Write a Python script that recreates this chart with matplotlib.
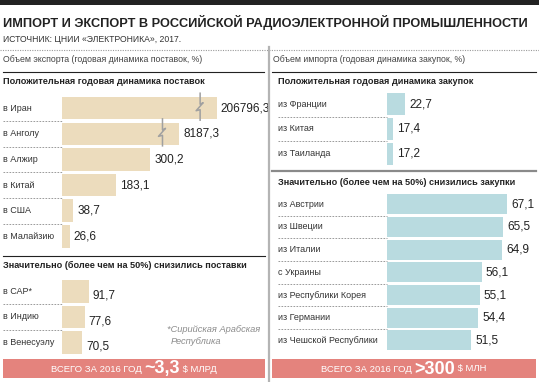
import numpy as np
import matplotlib.pyplot as plt
import matplotlib.transforms as mtransforms
from matplotlib.patches import Rectangle
from matplotlib.lines import Line2D

# Export: positive dynamics / strong decline (annual change, %)
exp_up_labels = ['в Иран', 'в Анголу', 'в Алжир', 'в Китай', 'в США', 'в Малайзию']
exp_up_values = [206796.3, 8187.3, 300.2, 183.1, 38.7, 26.6]
exp_down_labels = ['в САР*', 'в Индию', 'в Венесуэлу']
exp_down_values = [91.7, 77.6, 70.5]

# Import
imp_up_labels = ['из Франции', 'из Китая', 'из Таиланда']
imp_up_values = [22.7, 17.4, 17.2]
imp_down_labels = ['из Австрии', 'из Швеции', 'из Италии', 'с Украины',
                   'из Республики Корея', 'из Германии', 'из Чешской Республики']
imp_down_values = [67.1, 65.5, 64.9, 56.1, 55.1, 54.4, 51.5]

W, H = 539, 382
SANS = ['Liberation Sans', 'DejaVu Sans']
BEIGE = '#ecdcbd'
BLUE = '#b9dbe0'
SALMON = '#e4837d'
DARK = '#222222'

fig = plt.figure(figsize=(W / 100, H / 100), dpi=100)


def fx(x):
    return x / W


def fy(y):
    return 1 - y / H


def hline(x0, x1, y, **kw):
    fig.add_artist(Line2D([fx(x0), fx(x1)], [fy(y), fy(y)], **kw))


def txt(x, y, s, **kw):
    return fig.text(fx(x), fy(y), s, va='center', family=SANS, **kw)


def add_axes_px(x0, y0, x1, y1):
    ax = fig.add_axes([fx(x0), fy(y1), (x1 - x0) / W, (y1 - y0) / H])
    ax.set_axis_off()
    return ax


# broken scale for the export bars: linear up to the threshold, compressed above
T, K, P = 300.2, 281.0, 0.09


def fwd(x):
    x = np.asarray(x, float)
    big = T + K * ((np.maximum(x, T) / T) ** P - 1)
    return np.where(x > T, big, x)


def inv(y):
    y = np.asarray(y, float)
    big = T * ((np.maximum(y, T) - T) / K + 1) ** (1 / P)
    return np.where(y > T, big, y)


def fmt(v):
    return f'{v:.1f}'.replace('.', ',')


def bar_section(box, labels, values, color, label_x, sep_x1, xlim_fn, val_dy=0,
                broken=False):
    x0, y0, x1, y1 = box
    ax = add_axes_px(x0, y0, x1, y1)
    n = len(values)
    rows = np.arange(n)
    if broken:
        ax.set_xscale('function', functions=(fwd, inv))
    xlim_fn(ax, x1 - x0)
    ax.set_ylim(n - 0.5, -0.5)
    ax.barh(rows, values, height=0.88, color=color, left=0)
    lab_tr = mtransforms.blended_transform_factory(fig.transFigure, ax.transData)
    for i, (lab, v) in enumerate(zip(labels, values)):
        ax.text(fx(label_x), i, lab, transform=lab_tr, va='center', ha='left',
                fontsize=6.5, family=SANS, color='#333333')
        ax.annotate(fmt(v), (v, i), xytext=(3, val_dy), textcoords='offset points',
                    va='center', ha='left', fontsize=8.5, family=SANS, color=DARK)
    for i in range(n - 1):
        ax.plot([fx(label_x), fx(sep_x1)], [i + 0.5, i + 0.5], transform=lab_tr,
                color='#8a8a8a', lw=0.6, ls=(0, (2, 1.6)), clip_on=False)
    if broken:
        for i, v in enumerate(values):
            if v > T:
                xb = float(inv(fwd(v) - 16.5 / 0.295))
                tr = mtransforms.Affine2D() + mtransforms.ScaledTranslation(xb, i, ax.transData)
                ax.plot([0, 0, 3, -4, 0, 0], [15, 4, 5.5, -2.5, -1.5, -12], transform=tr,
                        color='#a0a0a0', lw=1.1, clip_on=False)
    return ax


def left_lim(ax, width):
    ax.set_xlim(0, float(inv(width / 0.295)))


def right_lim(ax, width):
    ax.set_xlim(14.7, 14.7 + width / 2.29)


# frame and headings
fig.add_artist(Rectangle((0, fy(4.5)), 1, 4.5 / H, transform=fig.transFigure,
                         color=DARK, lw=0))
txt(3, 22, 'ИМПОРТ И ЭКСПОРТ В РОССИЙСКОЙ РАДИОЭЛЕКТРОННОЙ ПРОМЫШЛЕННОСТИ',
    fontsize=9.2, weight='bold', color=DARK)
txt(3, 39, 'ИСТОЧНИК: ЦНИИ «ЭЛЕКТРОНИКА», 2017.', fontsize=6.2, color='#333333')
hline(0, W, 49.5, color='#9a9a9a', lw=0.8, ls=(0, (1, 1.2)))
fig.add_artist(Line2D([fx(269), fx(269)], [fy(47), 0], color='#b4b4b4', lw=1.6))

# left panel
txt(3, 60, 'Объем экспорта (годовая динамика поставок, %)', fontsize=6.3,
    color='#444444')
hline(3, 264, 71.5, color=DARK, lw=0.8)
txt(3, 82, 'Положительная годовая динамика поставок', fontsize=6.6, weight='bold',
    color=DARK)
bar_section((61.7, 95.4, 265, 249.2), exp_up_labels, exp_up_values, BEIGE, 3, 61.7,
            left_lim, broken=True)
hline(3, 265, 255.5, color=DARK, lw=0.8)
txt(3, 265.5, 'Значительно (более чем на 50%) снизились поставки', fontsize=6.6,
    weight='bold', color=DARK)
bar_section((61.7, 278.6, 265, 355.1), exp_down_labels, exp_down_values, BEIGE, 3, 61.7,
            left_lim, val_dy=-3, broken=True)
txt(167, 330, '*Сирийская Арабская', fontsize=6.7, style='italic', color='#8c8c8c')
txt(171, 342, 'Республика', fontsize=6.7, style='italic', color='#8c8c8c')

# right panel
txt(273, 60, 'Объем импорта (годовая динамика закупок, %)', fontsize=6.3,
    color='#444444')
hline(271.5, 536, 71.5, color=DARK, lw=0.8)
txt(278, 82, 'Положительная годовая динамика закупок', fontsize=6.6, weight='bold',
    color=DARK)
bar_section((387, 91.8, 536, 166.2), imp_up_labels, imp_up_values, BLUE, 278, 387,
            right_lim)
hline(272, 536, 170.5, color='#8a8a8a', lw=1.6)
txt(278, 182, 'Значительно (более чем на 50%) снизились закупки', fontsize=6.6,
    weight='bold', color=DARK)
bar_section((387, 192.85, 536, 351.75), imp_down_labels, imp_down_values, BLUE, 278, 387,
            right_lim)

# totals banners
renderer = fig.canvas.get_renderer()


def banner(x0, x1, pieces):
    fig.add_artist(Rectangle((fx(x0), fy(377.5)), (x1 - x0) / W, 18.5 / H,
                             transform=fig.transFigure, color=SALMON, lw=0))
    items = []
    for s, size, bold in pieces:
        t = txt(0, 369, s, fontsize=size, weight='bold' if bold else 'normal',
                color='white')
        items.append(t)
    widths = [t.get_window_extent(renderer).width for t in items]
    x = (x0 + x1) / 2 - sum(widths) / 2
    for t, w in zip(items, widths):
        t.set_x(fx(x))
        x += w


banner(3, 265, [('ВСЕГО ЗА 2016 ГОД ', 6.8, False), ('~3,3', 13, True),
                (' $ МЛРД', 6.8, False)])
banner(272, 536, [('ВСЕГО ЗА 2016 ГОД ', 6.8, False), ('>300', 13, True),
                  (' $ МЛН', 6.8, False)])

fig.savefig('out.png', dpi=100)
